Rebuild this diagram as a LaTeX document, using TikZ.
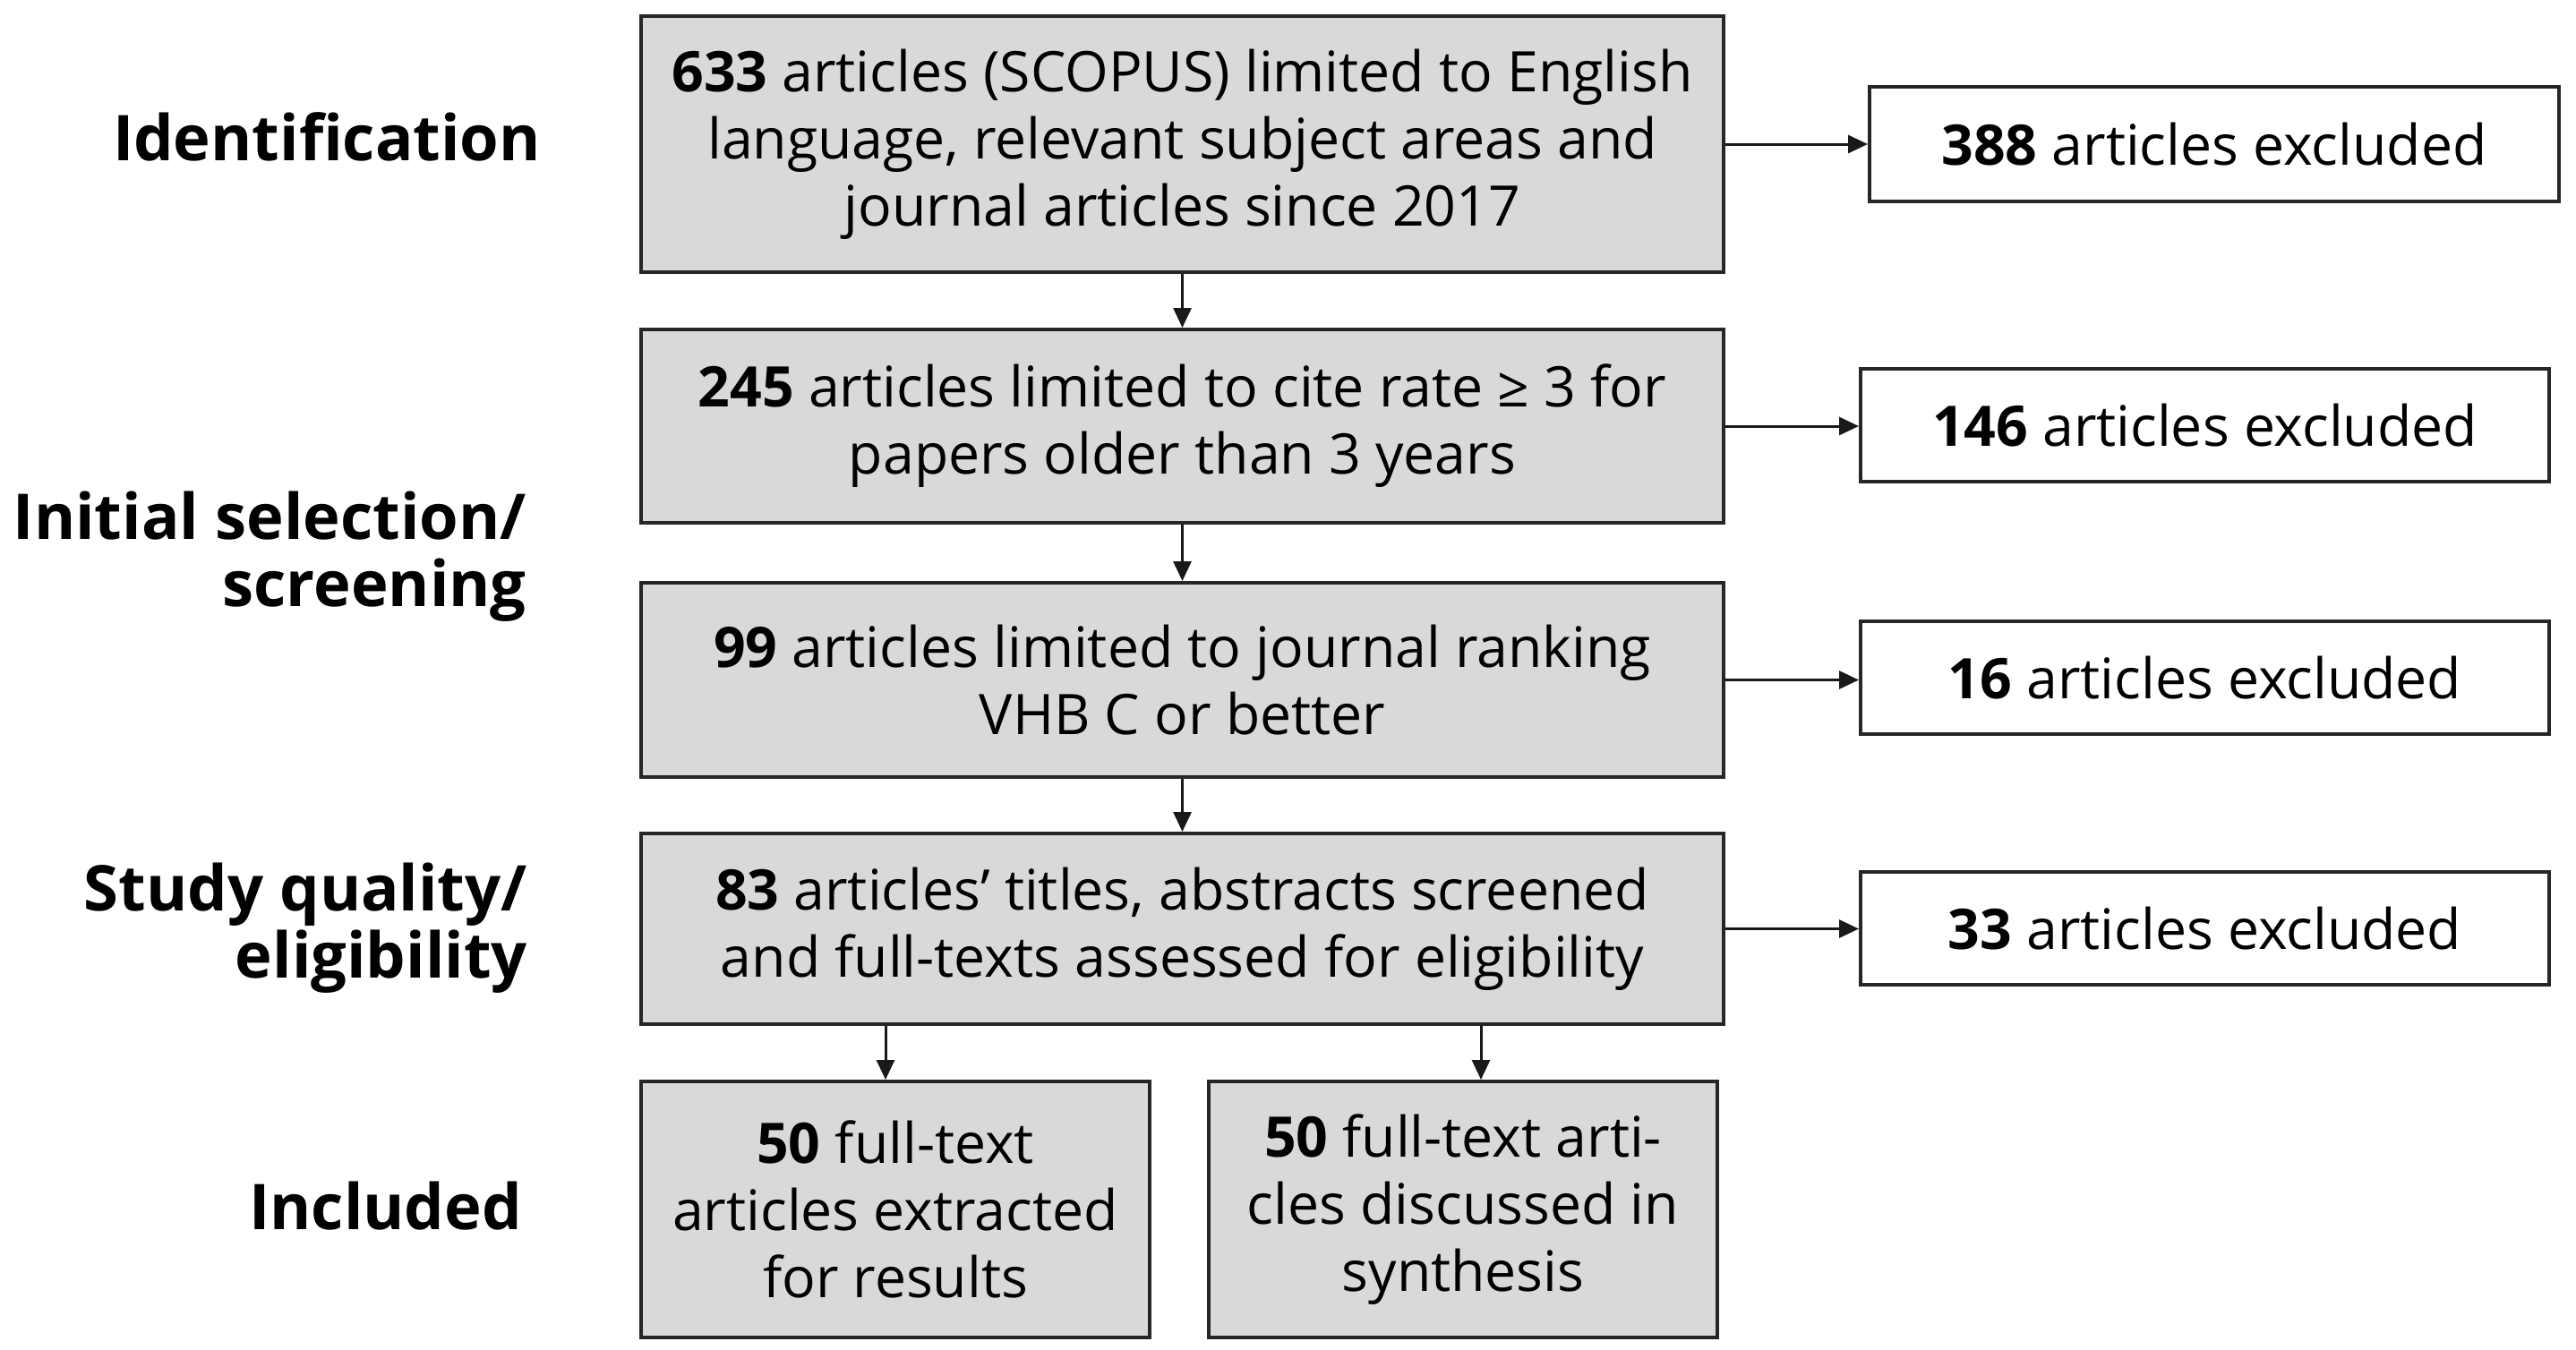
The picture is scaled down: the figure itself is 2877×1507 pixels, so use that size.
\documentclass[tikz,border=0pt]{standalone}
\usepackage{fontspec}
\setmainfont{Open Sans}
\usetikzlibrary{arrows.meta}
\begin{document}
\begin{tikzpicture}[x=1pt,y=-1pt,
  box/.style={draw=black!85, line width=4pt, fill=black!15, inner sep=0pt,
    align=center, font=\fontsize{62.5}{75}\selectfont},
  exbox/.style={draw=black!85, line width=4pt, fill=white, inner sep=0pt,
    align=center, font=\fontsize{62.5}{75}\selectfont},
  lab/.style={align=right, inner sep=0pt, font=\fontsize{70.5}{75}\selectfont\bfseries},
  arr/.style={draw=black!90, line width=3pt, -{Triangle[length=22pt,width=20pt]}}
]
\useasboundingbox (0,0) rectangle (2877,1507);
\fill[white] (0,0) rectangle (2877,1507);

% main column
\node[box, minimum width=1209pt, minimum height=286pt] (b1) at (1320.5,161)
  {\textbf{633} articles (SCOPUS) limited to English\\language, relevant subject areas and\\journal articles since 2017};
\node[box, minimum width=1209pt, minimum height=216pt] (b2) at (1320.5,476)
  {\textbf{245} articles limited to cite rate ≥ 3 for\\papers older than 3 years};
\node[box, minimum width=1209pt, minimum height=217pt] (b3) at (1320.5,759.5)
  {\textbf{99} articles limited to journal ranking\\VHB C or better};
\node[box, minimum width=1209pt, minimum height=213pt] (b4) at (1320.5,1037.5)
  {\textbf{83} articles’ titles, abstracts screened\\and full-texts assessed for eligibility};
\node[box, minimum width=568pt, minimum height=286pt] (b5a) at (1000,1351)
  {\textbf{50} full-text\\articles extracted\\for results};
\node[box, minimum width=568pt, minimum height=286pt] (b5b) at (1634,1351)
  {\textbf{50} full-text arti-\\cles discussed in\\synthesis};

% excluded boxes
\node[exbox, minimum width=770pt, minimum height=128pt] (e1) at (2473,161)
  {\textbf{388} articles excluded};
\node[exbox, minimum width=769pt, minimum height=126pt] (e2) at (2462.5,475)
  {\textbf{146} articles excluded};
\node[exbox, minimum width=769pt, minimum height=126pt] (e3) at (2462.5,757)
  {\textbf{16} articles excluded};
\node[exbox, minimum width=769pt, minimum height=126pt] (e4) at (2462.5,1037)
  {\textbf{33} articles excluded};

% stage labels (multi-line: base anchor is the last line)
\node[lab, anchor=base east] (l1) at (604,179) {Identification};
\node[lab, anchor=base east] (l2) at (588,677) {Initial selection/\\screening};
\node[lab, anchor=base east] (l3) at (589,1092) {Study quality/\\eligibility};
\node[lab, anchor=base east] (l4) at (583,1373) {Included};

% connectors
\draw[arr] (b1.south) -- (b2.north);
\draw[arr] (b2.south) -- (b3.north);
\draw[arr] (b3.south) -- (b4.north);
\draw[arr] ([xshift=-331.5pt]b4.south) -- ([xshift=-331.5pt]b4.south |- b5a.north);
\draw[arr] ([xshift=333.5pt]b4.south) -- ([xshift=333.5pt]b4.south |- b5b.north);
\draw[arr] (b1.east) -- (b1.east -| e1.west);
\draw[arr] (b2.east) -- (b2.east -| e2.west);
\draw[arr] (b3.east) -- (b3.east -| e3.west);
\draw[arr] (b4.east) -- (b4.east -| e4.west);
\end{tikzpicture}
\end{document}
